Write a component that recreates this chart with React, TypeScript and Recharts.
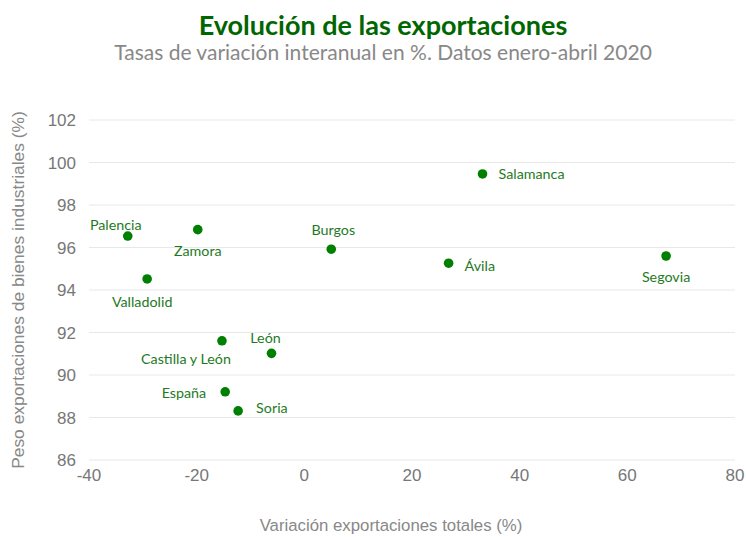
import { ScatterChart, Scatter, XAxis, YAxis, CartesianGrid } from 'recharts';

const names = ['Salamanca', 'Segovia', 'Ávila', 'Burgos', 'Zamora', 'Palencia', 'Valladolid', 'Castilla y León', 'León', 'España', 'Soria'];
const exportVariation = [33.1, 67.2, 26.8, 5.0, -19.8, -32.8, -29.2, -15.3, -6.1, -14.7, -12.3];
const industrialShare = [99.46, 95.6, 95.26, 95.92, 96.84, 96.54, 94.52, 91.61, 91.02, 89.21, 88.31];
const xTicks = [-40, -20, 0, 20, 40, 60, 80];
const yTicks = [86, 88, 90, 92, 94, 96, 98, 100, 102];

// label placement relative to each dot
const LABEL_POS: Record<string, { dx: number; dy: number; anchor: 'start' | 'middle' | 'end' }> = {
  Salamanca: { dx: 16, dy: 0, anchor: 'start' },
  Segovia: { dx: 0, dy: 20, anchor: 'middle' },
  'Ávila': { dx: 16, dy: 2, anchor: 'start' },
  Burgos: { dx: 2, dy: -20, anchor: 'middle' },
  Zamora: { dx: 0, dy: 21, anchor: 'middle' },
  Palencia: { dx: -12, dy: -12, anchor: 'middle' },
  Valladolid: { dx: -5, dy: 23, anchor: 'middle' },
  'Castilla y León': { dx: -36, dy: 18, anchor: 'middle' },
  'León': { dx: -6, dy: -16, anchor: 'middle' },
  'España': { dx: -19, dy: 1, anchor: 'end' },
  Soria: { dx: 18, dy: -3, anchor: 'start' },
};

const data = names.map((name, i) => ({ name, x: exportVariation[i], y: industrialShare[i] }));

const GREEN = '#008000';

function Dot(props: any) {
  const { cx, cy, payload } = props;
  const pos = LABEL_POS[payload.name];
  return (
    <g>
      <circle cx={cx} cy={cy} r={4.8} fill={GREEN} />
      <text
        x={cx + pos.dx}
        y={cy + pos.dy}
        textAnchor={pos.anchor}
        dominantBaseline="central"
        fontSize={14.3}
        fontFamily="Lato, sans-serif"
        fill="#1f7a1f"
      >
        {payload.name}
      </text>
    </g>
  );
}

const tickStyle = { fontSize: 17, fill: '#777', fontFamily: '"Liberation Sans", Arial, sans-serif' };

export default function App() {
  return (
    <div style={{ position: 'absolute', left: 0, top: 0, width: 746, height: 537, background: '#fff', overflow: 'hidden' }}>
      <div
        style={{
          position: 'absolute', top: 9, left: 0, width: 766, textAlign: 'center',
          fontFamily: 'Lato, sans-serif', fontWeight: 700, fontSize: 27, color: '#006600', lineHeight: '32px',
        }}
      >
        Evolución de las exportaciones
      </div>
      <div
        style={{
          position: 'absolute', top: 38, left: 0, width: 766, textAlign: 'center',
          fontFamily: 'Lato, sans-serif', fontSize: 21, color: '#888', lineHeight: '28px',
        }}
      >
        Tasas de variación interanual en %. Datos enero-abril 2020
      </div>
      <ScatterChart width={746} height={537} margin={{ top: 120, right: 11, bottom: 47, left: 29 }}>
        <CartesianGrid vertical={false} stroke="#e8e8e8" />
        <XAxis
          type="number"
          dataKey="x"
          domain={[-40, 80]}
          ticks={xTicks}
          axisLine={false}
          tickLine={false}
          tickMargin={3}
          height={30}
          tick={tickStyle}
        />
        <YAxis
          type="number"
          dataKey="y"
          domain={[86, 102]}
          ticks={yTicks}
          axisLine={false}
          tickLine={false}
          tickMargin={7}
          width={60}
          tick={tickStyle}
        />
        <Scatter data={data} fill={GREEN} shape={<Dot />} isAnimationActive={false} />
      </ScatterChart>
      <div
        style={{
          position: 'absolute', left: 18, top: 290, width: 420, marginLeft: -210, marginTop: -10,
          transform: 'rotate(-90deg)', textAlign: 'center', lineHeight: '20px',
          fontFamily: '"Liberation Sans", Arial, sans-serif', fontSize: 17.4, color: '#888',
        }}
      >
        Peso exportaciones de bienes industriales (%)
      </div>
      <div
        style={{
          position: 'absolute', left: 191, top: 516, width: 400, textAlign: 'center', lineHeight: '20px',
          fontFamily: '"Liberation Sans", Arial, sans-serif', fontSize: 16.8, color: '#888',
        }}
      >
        Variación exportaciones totales (%)
      </div>
    </div>
  );
}
